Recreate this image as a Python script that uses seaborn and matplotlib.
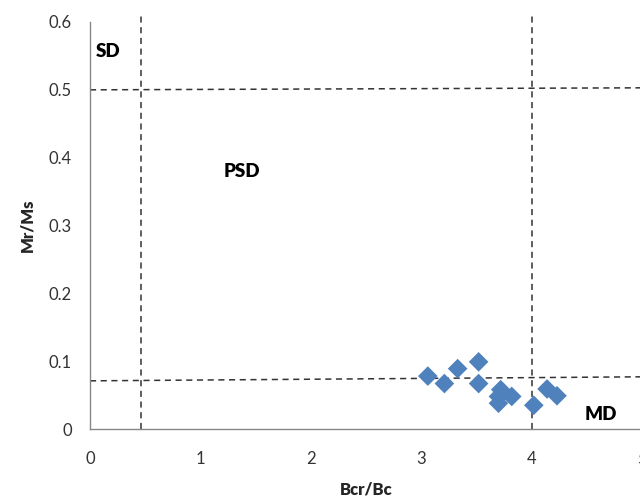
import seaborn as sns
import matplotlib.pyplot as plt
import pandas as pd

# Bcr/Bc vs Mr/Ms (Day plot)
bcr_bc = [3.06, 3.21, 3.33, 3.52, 3.52, 3.72, 3.70, 3.70, 3.82, 4.02, 4.14, 4.23]
mr_ms = [0.078, 0.067, 0.089, 0.099, 0.067, 0.058, 0.048, 0.038, 0.048, 0.035, 0.059, 0.049]

# domain boundary lines (start, end) in data units
vline_x = [0.46, 4.0]
hline_y = [(0.5, 0.503), (0.071, 0.077)]

region_labels = ["SD", "PSD", "MD"]
region_x = [0.16, 1.38, 4.63]
region_y = [0.557, 0.379, 0.021]

sns.set_style("white")
plt.rcParams['font.family'] = ['Lato', 'DejaVu Sans']

df = pd.DataFrame({"Bcr/Bc": bcr_bc, "Mr/Ms": mr_ms})

fig = plt.figure(figsize=(6.4, 4.99), dpi=100)
ax = fig.add_axes([90 / 640, 70 / 499, 552 / 640, 407 / 499])

dash_kw = dict(color="#333333", lw=1.1, linestyle=(0, (4, 3)), clip_on=False, zorder=1)
for xv in vline_x:
    ax.plot([xv, xv], [0, 0.615], **dash_kw)
for y0, y1 in hline_y:
    ax.plot([0, 5.05], [y0, y1], **dash_kw)

sns.scatterplot(data=df, x="Bcr/Bc", y="Mr/Ms", marker="D", s=100,
                color="#4F81BD", edgecolor="none", ax=ax, zorder=3, clip_on=False)

for lab, tx, ty in zip(region_labels, region_x, region_y):
    ax.text(tx, ty, lab, fontsize=13.5, fontweight="heavy", ha="center", va="center", color="black")

ax.set_xlim(0, 5)
ax.set_ylim(0, 0.6)
ax.set_xticks([0, 1, 2, 3, 4, 5])
ax.set_yticks([0, 0.1, 0.2, 0.3, 0.4, 0.5, 0.6])
ax.set_yticklabels(["0", "0.1", "0.2", "0.3", "0.4", "0.5", "0.6"])

for side in ["top", "right"]:
    ax.spines[side].set_visible(False)
for side in ["left", "bottom"]:
    ax.spines[side].set_color("#888888")
    ax.spines[side].set_linewidth(1.0)

ax.tick_params(axis="both", which="major", direction="out", length=5, width=1.0,
               color="#888888", labelsize=12, labelcolor="#333333")
ax.tick_params(axis="x", pad=11)
ax.tick_params(axis="y", pad=8)

ax.set_xlabel("Bcr/Bc", fontsize=12, fontweight="heavy", labelpad=10)
ax.set_ylabel("Mr/Ms", fontsize=12, fontweight="heavy", labelpad=10)

plt.savefig("out.png", dpi=100)
plt.close()
